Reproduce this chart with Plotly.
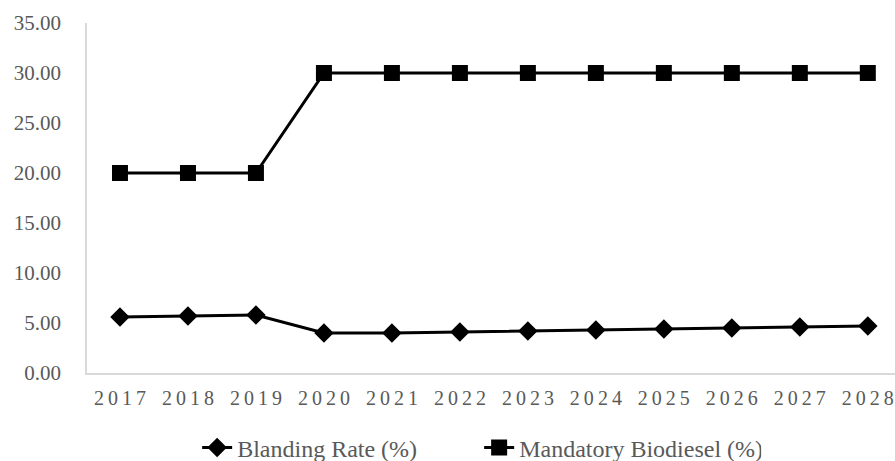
import plotly.graph_objects as go

years = ["2017", "2018", "2019", "2020", "2021", "2022", "2023", "2024", "2025", "2026", "2027", "2028"]
blending_rate = [5.6, 5.7, 5.8, 4.0, 4.0, 4.1, 4.2, 4.3, 4.4, 4.5, 4.6, 4.7]
mandatory_biodiesel = [20, 20, 20, 30, 30, 30, 30, 30, 30, 30, 30, 30]
y_ticks = [0, 5, 10, 15, 20, 25, 30, 35]

# tick labels with slight letter spacing, like the reference
x_ticktext = ["\u2009".join(list(y)) for y in years]

fig = go.Figure()
fig.add_trace(go.Scatter(
    x=years, y=blending_rate, name="Blanding Rate (%)",
    mode="lines+markers",
    line=dict(color="black", width=3),
    marker=dict(symbol="diamond", size=15, color="black"),
))
fig.add_trace(go.Scatter(
    x=years, y=mandatory_biodiesel, name="Mandatory Biodiesel (%)",
    mode="lines+markers",
    line=dict(color="black", width=3),
    marker=dict(symbol="square", size=16, color="black"),
))

font_family = "Liberation Serif"
fig.update_layout(
    width=895, height=461,
    margin=dict(l=87, r=0, t=23, b=88, autoexpand=False),
    plot_bgcolor="white", paper_bgcolor="white",
    font=dict(family=font_family, size=20, color="#595959"),
    showlegend=True,
    legend=dict(orientation="h", x=122 / 895, xanchor="left", y=-0.214, yanchor="middle",
                xref="paper", yref="paper",
                font=dict(family=font_family, size=24, color="#595959"),
                itemwidth=30, entrywidth=237, entrywidthmode="pixels", tracegroupgap=0),
)
fig.update_xaxes(
    type="category", range=[-0.485, 11.4],
    tickmode="array", tickvals=years, ticktext=x_ticktext,
    showgrid=False, showline=True, linecolor="#d9d9d9", linewidth=1.5,
    ticks="", ticklabelstandoff=6, zeroline=False, ticklabeloverflow="allow",
    tickfont=dict(family=font_family, size=20, color="#595959"),
)
fig.update_yaxes(
    range=[0, 35], tickmode="array", tickvals=y_ticks,
    ticktext=[f"{v:.2f}" for v in y_ticks],
    showgrid=False, showline=True, linecolor="#d9d9d9", linewidth=1.5,
    ticks="", ticklabelstandoff=20, zeroline=False,
    tickfont=dict(family=font_family, size=21, color="#595959"),
)

fig.write_html("out.html", config={"displayModeBar": False},
               post_script="document.body.style.margin='0px';document.body.style.padding='0px';")
